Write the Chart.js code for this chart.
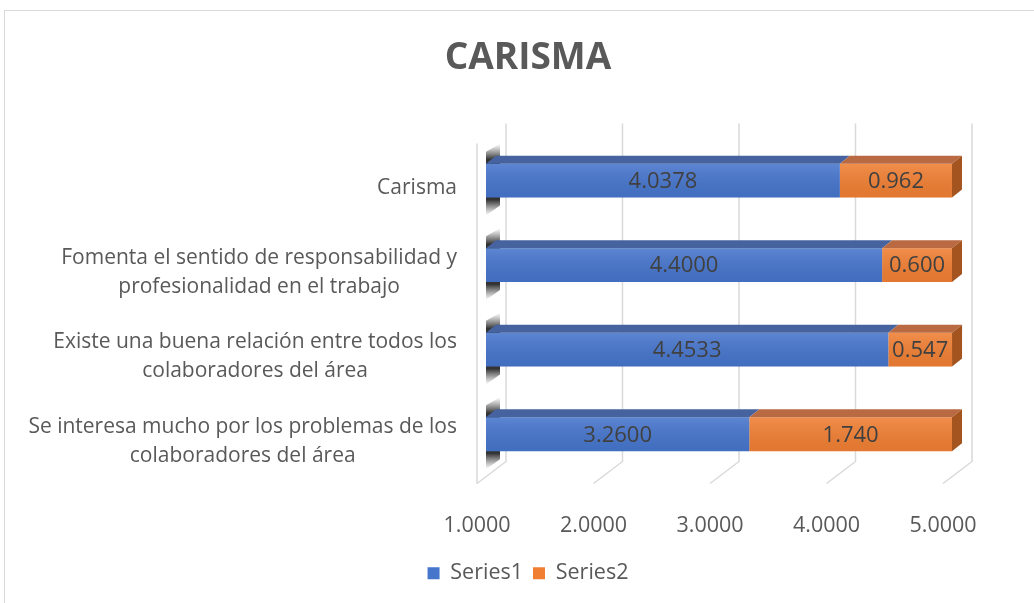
<!DOCTYPE html>
<html lang="es">
<head>
  <meta charset="UTF-8">
  <title>CARISMA</title>
  <style>
    body {
      margin: 0;
      padding: 0;
      background: #ffffff;
      overflow: hidden;
    }
    .frame {
      position: absolute;
      left: 4px;
      top: 10px;
      width: 1200px;
      height: 800px;
      border: 1px solid #d9d9d9;
    }
    .wrap {
      position: absolute;
      left: 0;
      top: 0;
      width: 1034px;
      height: 603px;
    }
  </style>
</head>
<body>
  <div class="frame"></div>
  <div class="wrap">
    <canvas id="chart" width="1034" height="603"></canvas>
  </div>

  <script src="https://cdn.jsdelivr.net/npm/chart.js"></script>
  <script>
    // Data (top to bottom as drawn)
    const categories = [
      ['Carisma'],
      ['Fomenta el sentido de responsabilidad y', 'profesionalidad en el trabajo'],
      ['Existe una buena relación entre todos los', 'colaboradores del área'],
      ['Se interesa mucho por los problemas de los', 'colaboradores del área']
    ];
    const series1 = [4.0378, 4.4000, 4.4533, 3.2600];
    const series2 = [0.962, 0.600, 0.547, 1.740];
    const xTicks = [1, 2, 3, 4, 5];

    const FONT = "'Open Sans', sans-serif";
    const TEXT = '#595959';
    const DEPTH_X = 10, DEPTH_Y = 8;

    const faceColors = [
      { front: '#4675cc', top: '#46639f', side: '#34569a' },
      { front: '#f07f33', top: '#b96a42', side: '#a4541f' }
    ];

    function barBox(bar, area) {
      const p = bar.getProps(['x', 'y', 'base', 'height'], true);
      const left = Math.max(Math.min(p.base, p.x), area.left);
      const right = Math.max(p.base, p.x);
      return { left, right, top: p.y - p.height / 2, bottom: p.y + p.height / 2, y: p.y };
    }

    // 3D-ish walls, grid, bar faces, labels
    const excel3d = {
      id: 'excel3d',
      beforeDatasetsDraw(chart) {
        const { ctx, chartArea: a, scales } = chart;
        const x = scales.x;
        ctx.save();
        ctx.strokeStyle = '#d9d9d9';
        ctx.lineWidth = 1.5;
        // left wall edge
        const wallX = x.getPixelForValue(xTicks[0]) - 9;
        ctx.beginPath();
        ctx.moveTo(wallX, a.top + 5);
        ctx.lineTo(wallX, a.bottom + 7);
        ctx.stroke();
        xTicks.forEach(v => {
          const xb = x.getPixelForValue(v) + 20;
          ctx.beginPath();
          ctx.moveTo(xb, a.top - 15);
          ctx.lineTo(xb, a.bottom - 15);
          ctx.lineTo(xb - 29, a.bottom + 7);
          ctx.stroke();
        });
        // shadow of bar ends on the left wall
        chart.getDatasetMeta(0).data.forEach(bar => {
          const b = barBox(bar, a);
          const L = a.left;
          const g = ctx.createLinearGradient(0, b.top - 20, 0, b.bottom + 18);
          g.addColorStop(0, 'rgba(90,90,90,0)');
          g.addColorStop(0.22, 'rgba(40,40,40,0.95)');
          g.addColorStop(0.78, 'rgba(40,40,40,0.95)');
          g.addColorStop(1, 'rgba(90,90,90,0)');
          ctx.fillStyle = g;
          ctx.beginPath();
          ctx.moveTo(L, b.top - 12);
          ctx.lineTo(L + 14, b.top - 20);
          ctx.lineTo(L + 14, b.bottom + 8);
          ctx.lineTo(L, b.bottom + 18);
          ctx.closePath();
          ctx.fill();
        });
        ctx.restore();
      },
      afterDatasetsDraw(chart) {
        const { ctx, chartArea: a } = chart;
        const last = chart.data.datasets.length - 1;
        ctx.save();
        chart.data.datasets.forEach((ds, di) => {
          const c = faceColors[di];
          chart.getDatasetMeta(di).data.forEach(bar => {
            const b = barBox(bar, a);
            // front shading
            const g = ctx.createLinearGradient(0, b.top, 0, b.bottom);
            g.addColorStop(0, 'rgba(255,255,255,0.12)');
            g.addColorStop(1, 'rgba(0,0,0,0.06)');
            ctx.fillStyle = g;
            ctx.fillRect(b.left, b.top, b.right - b.left, b.bottom - b.top);
            // top face
            ctx.fillStyle = c.top;
            ctx.beginPath();
            ctx.moveTo(b.left, b.top);
            ctx.lineTo(b.left + DEPTH_X, b.top - DEPTH_Y);
            ctx.lineTo(b.right + DEPTH_X, b.top - DEPTH_Y);
            ctx.lineTo(b.right, b.top);
            ctx.closePath();
            ctx.fill();
            if (di === last) {
              ctx.fillStyle = c.side;
              ctx.beginPath();
              ctx.moveTo(b.right, b.top);
              ctx.lineTo(b.right + DEPTH_X, b.top - DEPTH_Y);
              ctx.lineTo(b.right + DEPTH_X, b.bottom - DEPTH_Y);
              ctx.lineTo(b.right, b.bottom);
              ctx.closePath();
              ctx.fill();
            }
          });
        });
        // value labels
        ctx.font = '22px ' + FONT;
        ctx.fillStyle = '#404040';
        ctx.textAlign = 'center';
        ctx.textBaseline = 'middle';
        chart.data.datasets.forEach((ds, di) => {
          chart.getDatasetMeta(di).data.forEach((bar, i) => {
            const b = barBox(bar, a);
            const txt = di === 0 ? ds.data[i].toFixed(4) : ds.data[i].toFixed(3);
            ctx.fillText(txt, (b.left + b.right) / 2, b.y + 1);
          });
        });
        ctx.restore();
      },
      afterDraw(chart) {
        // category labels: block right-aligned, lines centred within block
        const { ctx, chartArea: a, scales } = chart;
        const y = scales.y;
        const right = a.left - 29;
        const lineH = 29;
        ctx.save();
        ctx.font = '21px ' + FONT;
        ctx.fillStyle = TEXT;
        ctx.textAlign = 'center';
        ctx.textBaseline = 'middle';
        categories.forEach((lines, i) => {
          const widest = Math.max(...lines.map(l => ctx.measureText(l).width));
          const cx = right - widest / 2;
          const cy = y.getPixelForValue(i) + 7;
          lines.forEach((l, k) => {
            ctx.fillText(l, cx, cy + (k - (lines.length - 1) / 2) * lineH);
          });
        });
        ctx.restore();
      }
    };

    new Chart(document.getElementById('chart'), {
      type: 'bar',
      data: {
        labels: categories,
        datasets: [
          { label: 'Series1', data: series1, backgroundColor: faceColors[0].front },
          { label: 'Series2', data: series2, backgroundColor: faceColors[1].front }
        ]
      },
      options: {
        indexAxis: 'y',
        responsive: false,
        animation: false,
        layout: { padding: { top: 10, left: 22, right: 0, bottom: 9 } },
        datasets: {
          bar: { categoryPercentage: 1, barPercentage: 0.4, borderWidth: 0 }
        },
        scales: {
          x: {
            stacked: true,
            min: 1,
            max: 5,
            afterBuildTicks: s => { s.ticks = xTicks.map(v => ({ value: v })); },
            afterFit: s => { s.height = 76; },
            grid: { display: false },
            border: { display: false },
            ticks: {
              padding: 28,
              labelOffset: -9,
              color: TEXT,
              font: { family: FONT, size: 21.5 },
              callback: v => Number(v).toFixed(4)
            }
          },
          y: {
            stacked: true,
            afterFit: s => { s.width = 464; },
            grid: { display: false },
            border: { display: false },
            ticks: { display: false }
          },
          yRight: {
            axis: 'y',
            type: 'category',
            position: 'right',
            afterFit: s => { s.width = 82; },
            grid: { display: false },
            border: { display: false },
            ticks: { display: false }
          }
        },
        plugins: {
          title: {
            display: true,
            text: 'CARISMA',
            color: TEXT,
            font: { family: FONT, size: 37, weight: 'bold' },
            padding: { top: 26, bottom: 58 }
          },
          legend: {
            position: 'bottom',
            labels: {
              color: TEXT,
              boxWidth: 12,
              boxHeight: 12,
              padding: 10,
              font: { family: FONT, size: 21.5 }
            }
          },
          tooltip: { enabled: false }
        }
      },
      plugins: [excel3d]
    });
  </script>
</body>
</html>
